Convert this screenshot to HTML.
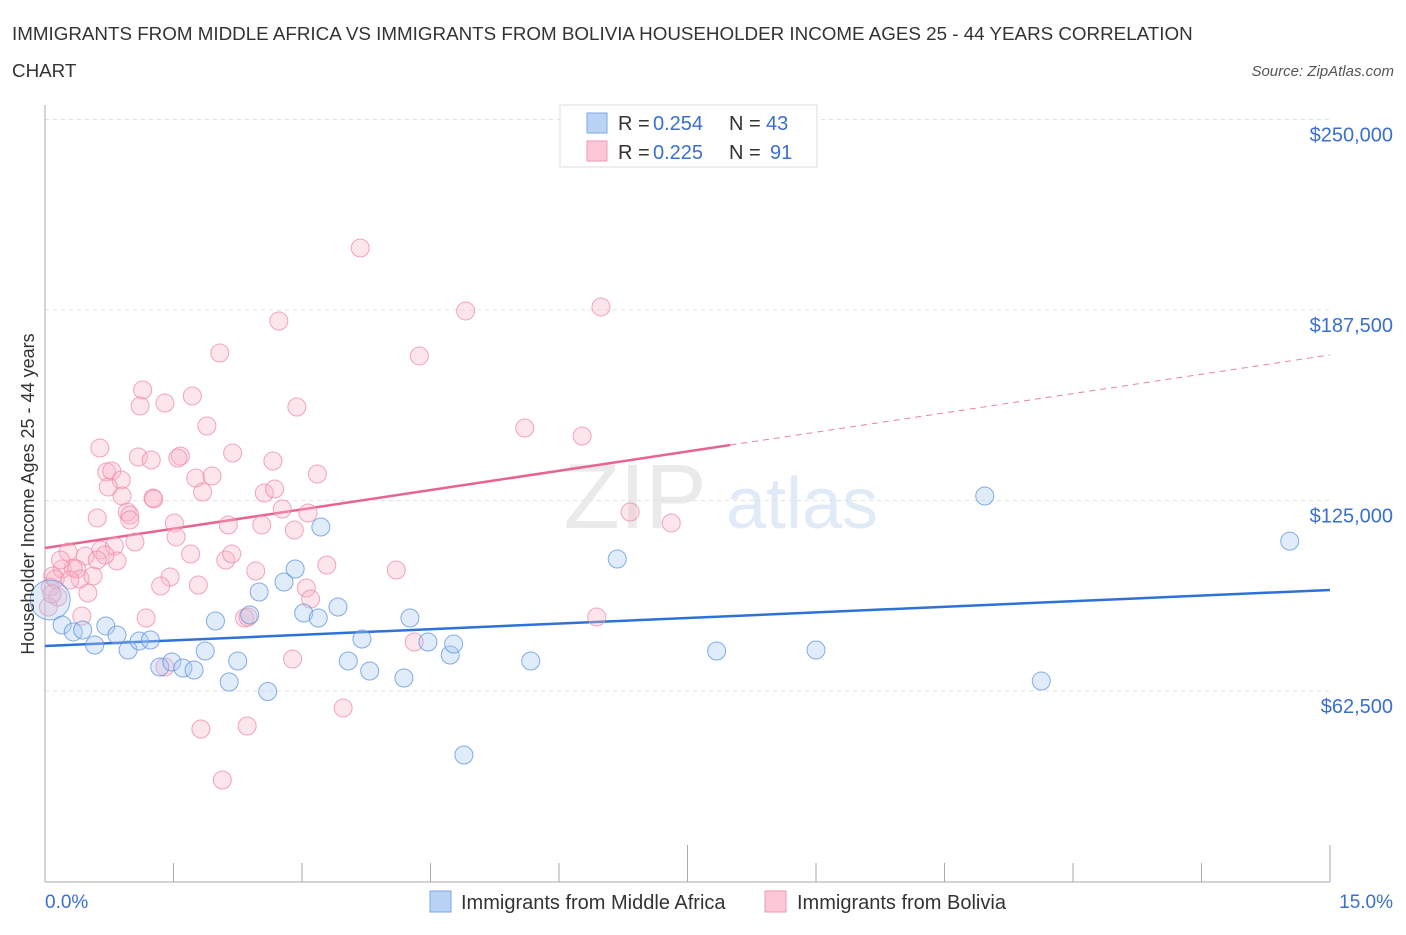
<!DOCTYPE html>
<html><head><meta charset="utf-8"><style>
body{margin:0;background:#fff;font-family:"Liberation Sans",sans-serif;}
svg text{font-family:"Liberation Sans",sans-serif;}
</style></head><body>
<svg id="chart" width="1406" height="930" xmlns="http://www.w3.org/2000/svg">
<text x="12" y="40" font-size="18.8" fill="#333">IMMIGRANTS FROM MIDDLE AFRICA VS IMMIGRANTS FROM BOLIVIA HOUSEHOLDER INCOME AGES 25 - 44 YEARS CORRELATION</text>
<text x="12" y="77" font-size="18.8" fill="#333">CHART</text>
<text x="1394" y="76" font-size="15" fill="#555" text-anchor="end" font-style="italic">Source: ZipAtlas.com</text>
<g opacity="0.3">
<text x="635" y="528" font-size="92" fill="#bbb" font-family="Liberation Serif" text-anchor="middle">ZIP</text>
<text x="802" y="528" font-size="72" fill="#9cc0e8" text-anchor="middle">atlas</text>
</g>
<g id="grid"></g><g id="axes"></g><g id="lines"></g><g id="pts"></g>
<text transform="translate(34,494) rotate(-90)" font-size="18" fill="#333" text-anchor="middle">Householder Income Ages 25 - 44 years</text>
<g>
<rect x="560" y="105" width="257" height="62" fill="#fff" stroke="#ddd"/>
<rect x="587" y="113" width="20" height="20" fill="#b9d3f5" stroke="#7aa8e6"/>
<rect x="587" y="141" width="20" height="20" fill="#fcc7d6" stroke="#ee9ab3"/>
<text x="618" y="130" font-size="20" fill="#333">R = </text><text x="653" y="130" font-size="20" fill="#3a6fd0">0.254</text>
<text x="729" y="130" font-size="20" fill="#333">N = </text><text x="766" y="130" font-size="20" fill="#3a6fd0">43</text>
<text x="618" y="159" font-size="20" fill="#333">R = </text><text x="653" y="159" font-size="20" fill="#3a6fd0">0.225</text>
<text x="729" y="159" font-size="20" fill="#333">N = </text><text x="770" y="159" font-size="20" fill="#3a6fd0">91</text>
</g>
<g>
<rect x="430" y="891" width="21" height="21" fill="#b9d3f5" stroke="#7aa8e6"/>
<text x="461" y="909" font-size="20" fill="#333">Immigrants from Middle Africa</text>
<rect x="765" y="891" width="21" height="21" fill="#fcc7d6" stroke="#ee9ab3"/>
<text x="797" y="909" font-size="20" fill="#333">Immigrants from Bolivia</text>
</g>
</svg>
<script>
const blueX=[0.06,0.20,0.33,0.44,0.58,0.71,0.84,0.97,1.10,1.23,1.34,1.48,1.61,1.74,1.87,1.99,2.15,2.25,2.39,2.50,2.60,2.79,2.92,3.02,3.19,3.22,3.42,3.54,3.70,3.79,4.19,4.26,4.47,4.73,4.77,4.89,5.67,6.68,7.84,9.00,10.97,11.63,14.53];
const blueY=[92360,84160,81870,82520,77600,83840,80880,75960,78910,79240,70380,72020,70050,69390,75630,85470,65450,72340,87440,94990,62330,98270,102530,88090,86450,116300,90060,72350,79570,69070,66770,86450,78580,74310,77910,41500,72350,105800,75630,75960,126480,65770,111670];
const pinkX=[2.04,1.14,1.11,1.40,1.72,1.89,2.94,0.64,1.09,1.24,1.58,1.55,0.72,0.78,0.89,0.74,0.90,1.26,1.27,1.76,1.95,1.84,2.19,2.66,2.56,2.68,3.18,0.61,0.96,0.99,0.99,1.51,1.53,2.14,2.53,2.77,3.07,2.91,1.05,0.65,0.81,0.84,0.27,0.47,1.70,2.11,2.18,2.46,3.29,0.09,0.20,0.33,0.37,0.41,0.56,0.50,0.18,1.46,1.35,1.79,3.05,3.10,0.43,1.18,2.33,2.37,2.89,1.40,3.48,1.82,2.36,2.07,3.68,2.73,4.91,4.37,6.49,5.60,6.27,4.10,4.31,6.83,7.31,6.44,0.06,0.12,0.15,0.04,0.29,0.70,0.61,0.08];
const pinkY=[173400,161260,156010,156990,159290,149450,155680,142230,139280,138290,139600,138950,134350,134680,131730,129430,126480,125820,125490,132380,133040,127790,140580,137960,127460,128780,133700,119270,121230,120250,118610,117630,113040,116970,116970,122220,120900,115330,111390,108760,110080,105160,108110,106790,107440,105470,107440,101860,103830,100230,102530,102860,102530,99250,100230,94650,105470,99910,96950,97280,96300,92690,87110,86450,86450,86780,73000,70380,56930,50040,51020,33300,207850,183900,187190,172420,188500,148790,146170,102200,78580,121230,117630,86780,96620,99250,93340,90060,98920,107110,105470,94320];
const yTicks=[62500,125000,187500,250000];
const yTickLabels=["$62,500","$125,000","$187,500","$250,000"];
const blueTrend=[77270,95640];
const pinkTrend=[109420,172750];
const pinkSolidEnd=8.0;
const NS="http://www.w3.org/2000/svg";
const X=p=>45+p*(1285/15);
const Y=v=>881.5-v*190.5/62500;
function mk(tag,attrs,parent){const e=document.createElementNS(NS,tag);for(const k in attrs)e.setAttribute(k,attrs[k]);document.getElementById(parent).appendChild(e);return e;}
yTicks.forEach((t,i)=>{
 const g=mk('line',{x1:45,x2:1330,y1:Y(t),y2:Y(t),stroke:'#e2e2e2','stroke-dasharray':'4,4'},'grid');
 
 
 const tx=mk('text',{x:1393,y:Y(t)+22,'font-size':20,fill:'#3a6fd0','text-anchor':'end'},'axes');
 tx.textContent=yTickLabels[i];
 
 
});
const ax=mk('line',{x1:45,x2:45,y1:105,y2:882,stroke:'#aaa'},'axes');


const bx=mk('line',{x1:45,x2:1330,y1:882,y2:882,stroke:'#aaa'},'axes');


for(let i=0;i<=10;i++){
 const tk=mk('line',{x1:X(i*1.5),x2:X(i*1.5),y1:(i==5||i==10)?845:863,y2:882,stroke:'#aaa'},'axes');
 
 
}
const xl0=mk('text',{x:45,y:908,'font-size':19,fill:'#3a6fd0'},'axes');xl0.textContent='0.0%';


const xl1=mk('text',{x:1393,y:908,'font-size':19,fill:'#3a6fd0','text-anchor':'end'},'axes');xl1.textContent='15.0%';


const at=x=>pinkTrend[0]+(pinkTrend[1]-pinkTrend[0])*x/15;
function dots(xs,ys,fill,stroke,name){
 xs.forEach((x,i)=>{
  const big=(i==0&&name=='blue');
  const c=mk('circle',{cx:X(x),cy:Y(ys[i]),r:big?20:9,fill:fill,'fill-opacity':0.35,stroke:stroke,'stroke-opacity':0.75,'stroke-width':1},'pts');
  
  
 });
}
dots(pinkX,pinkY,'#f9b4c8','#ec8aa9','pink');
dots(blueX,blueY,'#a9c8f0','#5b93dc','blue');
const bl=mk('line',{x1:X(0),y1:Y(blueTrend[0]),x2:X(15),y2:Y(blueTrend[1]),stroke:'#2f72d6','stroke-width':2.5},'lines');


const pl=mk('line',{x1:X(0),y1:Y(at(0)),x2:X(pinkSolidEnd),y2:Y(at(pinkSolidEnd)),stroke:'#e8648e','stroke-width':2.5},'lines');


const pd=mk('line',{x1:X(pinkSolidEnd),y1:Y(at(pinkSolidEnd)),x2:X(15),y2:Y(at(15)),stroke:'#e8849f','stroke-width':1,'stroke-dasharray':'6,5'},'lines');


</script>
</body></html>
